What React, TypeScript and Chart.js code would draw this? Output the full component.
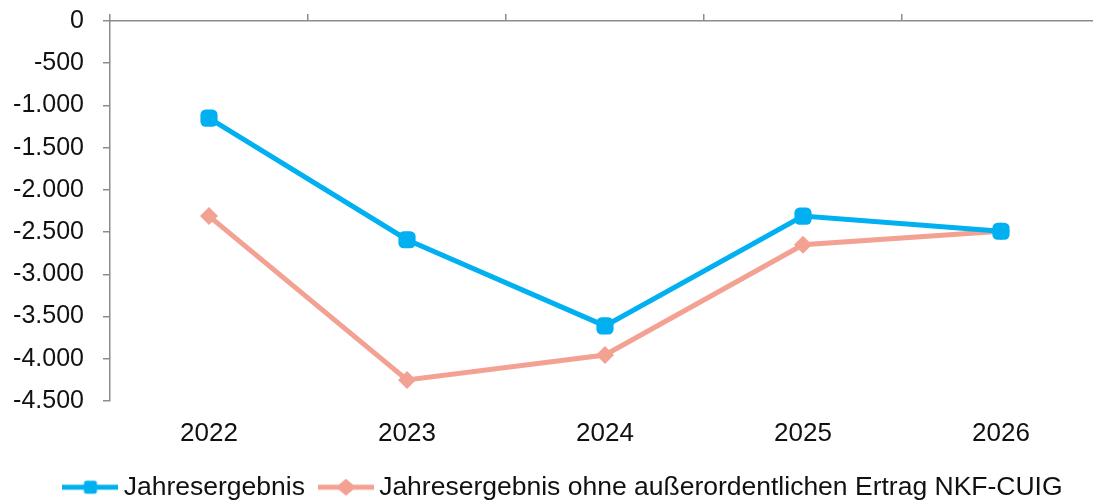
import React, { useEffect, useRef } from "react";
import { Chart, registerables } from "chart.js";

Chart.register(...registerables);

const categories = ["2022", "2023", "2024", "2025", "2026"];
const jahresergebnis = [-1150, -2590, -3610, -2310, -2490];
const ohneErtrag = [-2310, -4250, -3955, -2650, -2490];
const seriesNames = [
  "Jahresergebnis",
  "Jahresergebnis ohne außerordentlichen Ertrag NKF-CUIG",
];
const yMin = -4500;
const yMax = 0;
const yStep = 500;

const BLUE = "#00B0F0";
const PINK = "#F2A193";
const AXIS = "#8c8c8c";
const TEXT = "#111111";
const FONT = "'Liberation Sans', Arial, sans-serif";

const CANVAS_W = 1133;
const CANVAS_H = 500;

function fmt(v: number): string {
  const s = Math.abs(Math.round(v))
    .toString()
    .replace(/\B(?=(\d{3})+(?!\d))/g, ".");
  return (v < 0 ? "-" : "") + s;
}

function legendImage(color: string, style: "square" | "diamond") {
  const c = document.createElement("canvas");
  c.width = 56;
  c.height = 26;
  const ctx = c.getContext("2d")!;
  ctx.strokeStyle = color;
  ctx.lineWidth = 5;
  ctx.beginPath();
  ctx.moveTo(0, 13);
  ctx.lineTo(56, 13);
  ctx.stroke();
  ctx.fillStyle = color;
  if (style === "square") {
    const s = 13;
    const x = 28 - s / 2;
    const y = 13 - s / 2;
    const r = 2.5;
    ctx.beginPath();
    ctx.moveTo(x + r, y);
    ctx.arcTo(x + s, y, x + s, y + s, r);
    ctx.arcTo(x + s, y + s, x, y + s, r);
    ctx.arcTo(x, y + s, x, y, r);
    ctx.arcTo(x, y, x + s, y, r);
    ctx.closePath();
    ctx.fill();
  } else {
    const rx = 10;
    const ry = 8.5;
    ctx.beginPath();
    ctx.moveTo(28, 13 - ry);
    ctx.lineTo(28 + rx, 13);
    ctx.lineTo(28, 13 + ry);
    ctx.lineTo(28 - rx, 13);
    ctx.closePath();
    ctx.fill();
  }
  return c;
}

export default function App() {
  const canvasRef = useRef<HTMLCanvasElement | null>(null);

  useEffect(() => {
    if (!canvasRef.current) return;
    const imgs = [legendImage(BLUE, "square"), legendImage(PINK, "diamond")];

    const legendHeightPlugin = {
      id: "legendHeightFix",
      beforeLayout(chart: any) {
        const lg = chart.legend;
        if (lg && !lg.__patched) {
          const orig = lg.fit.bind(lg);
          lg.fit = function () {
            orig();
            this.height = 47;
          };
          lg.__patched = true;
        }
      },
    };

    const chart = new Chart(canvasRef.current, {
      type: "line",
      data: {
        labels: categories,
        datasets: [
          {
            label: seriesNames[0],
            data: jahresergebnis,
            borderColor: BLUE,
            backgroundColor: BLUE,
            borderWidth: 5,
            pointStyle: "rectRounded",
            pointRadius: 10,
            pointBorderWidth: 0,
            pointBackgroundColor: BLUE,
            tension: 0,
            xAxisID: "x",
            yAxisID: "y",
          },
          {
            label: seriesNames[1],
            data: ohneErtrag,
            borderColor: PINK,
            backgroundColor: PINK,
            borderWidth: 5,
            pointStyle: "rectRot",
            pointRadius: 9,
            pointBorderWidth: 0,
            pointBackgroundColor: PINK,
            tension: 0,
            xAxisID: "x",
            yAxisID: "y",
          },
        ],
      },
      options: {
        responsive: false,
        animation: false,
        layout: { padding: 0, autoPadding: false },
        font: { family: FONT },
        plugins: {
          tooltip: { enabled: false },
          legend: {
            display: true,
            position: "bottom",
            align: "center",
            labels: {
              usePointStyle: true,
              pointStyleWidth: 40,
              padding: 21,
              color: TEXT,
              font: { family: FONT, size: 26.5 },
              generateLabels: () =>
                seriesNames.map((name, i) => ({
                  text: name,
                  pointStyle: imgs[i] as any,
                  fillStyle: i === 0 ? BLUE : PINK,
                  strokeStyle: i === 0 ? BLUE : PINK,
                  lineWidth: 0,
                  hidden: false,
                  datasetIndex: i,
                  fontColor: TEXT,
                })),
            },
          },
        },
        scales: {
          x: {
            type: "category",
            position: "bottom",
            offset: true,
            grid: { display: false, drawTicks: false, offset: true },
            border: { display: false },
            ticks: {
              color: TEXT,
              font: { family: FONT, size: 26 },
              padding: 17,
              maxRotation: 0,
              autoSkip: false,
            },
            afterFit: (s: any) => {
              s.height = 52;
            },
          },
          x2: {
            type: "category",
            position: "top",
            labels: categories,
            offset: true,
            grid: {
              display: true,
              drawOnChartArea: false,
              drawTicks: true,
              tickLength: 7,
              color: AXIS,
              lineWidth: 1.5,
              offset: true,
            },
            border: { display: true, color: AXIS, width: 1.5 },
            ticks: { display: false },
            afterFit: (s: any) => {
              s.height = 21;
            },
          },
          y: {
            type: "linear",
            position: "left",
            min: yMin,
            max: yMax,
            grid: {
              drawOnChartArea: false,
              drawTicks: true,
              tickLength: 7,
              color: AXIS,
              lineWidth: 1.5,
            },
            border: { display: true, color: AXIS, width: 1.5 },
            ticks: {
              stepSize: yStep,
              color: TEXT,
              font: { family: FONT, size: 25 },
              padding: 19,
              callback: (v: any) => fmt(Number(v)),
            },
            afterFit: (s: any) => {
              s.width = 110;
              s.paddingTop = 10;
              s.paddingBottom = 10;
            },
          },
          y2: {
            type: "linear",
            position: "right",
            display: true,
            grid: { display: false, drawTicks: false },
            border: { display: false },
            ticks: { display: false },
            afterFit: (s: any) => {
              s.width = 33;
              s.paddingTop = 0;
              s.paddingBottom = 0;
            },
          },
        },
      },
      plugins: [legendHeightPlugin],
    } as any);

    return () => {
      chart.destroy();
    };
  }, []);

  return (
    <div
      style={{
        position: "fixed",
        left: 0,
        top: 0,
        width: 1093,
        height: 500,
        overflow: "hidden",
        background: "#ffffff",
      }}
    >
      <canvas
        ref={canvasRef}
        width={CANVAS_W}
        height={CANVAS_H}
        style={{ display: "block", width: CANVAS_W, height: CANVAS_H }}
      />
    </div>
  );
}
